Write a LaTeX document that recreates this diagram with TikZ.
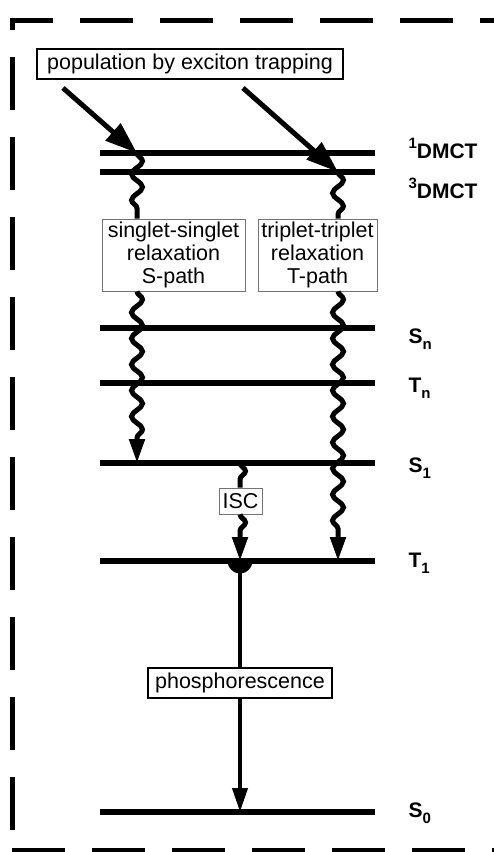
\documentclass[tikz,border=0pt]{standalone}
\usepackage{fontspec}
\setmainfont{Liberation Sans}
\usetikzlibrary{arrows.meta, positioning, decorations.pathmorphing}
\newcommand{\lvlsup}[1]{\raisebox{10pt}{\fontsize{15}{15}\selectfont #1}}
\newcommand{\lvlsub}[1]{\raisebox{-6pt}{\fontsize{15}{15}\selectfont #1}}

\begin{document}
\begin{tikzpicture}[x=1pt, y=-1pt,
    every node/.style={font=\fontsize{21.5}{23}\selectfont},
    level/.style={line width=5.5pt},
    lvllabel/.style={anchor=base west, font=\fontsize{21}{23}\selectfont\bfseries},
    bigbox/.style={draw, line width=2pt, fill=white, inner sep=0pt},
    thinbox/.style={draw=black!55, line width=0.8pt, fill=white, inner sep=0pt, align=center},
    trap/.style={line width=5pt, -{Triangle[length=32pt, width=22pt]}},
    relax/.style={line width=5pt, decorate,
        decoration={snake, amplitude=5.5pt, segment length=26pt}},
    relaxend/.style={relax, decoration={post length=24pt}, -{Triangle[length=24pt, width=15pt]}},
    emit/.style={line width=4pt},
    border/.style={line width=5pt, dash pattern=on 53pt off 27pt}]

\useasboundingbox (0,0) rectangle (494,852);
\clip (0,0) rectangle (494,852);

% Dashed frame (right side runs off the page)
\draw[border, dash phase=9.5pt] (9.5,20) -- (500,20);
\draw[border, dash phase=40.5pt] (12,17.5) -- (12,850);
\draw[border] (12,850) -- (500,850);
\draw[border, dash phase=18pt] (496,20) -- (496,850);

% Energy levels
\foreach \lvl/\y in {dmct1/153, dmct3/172, sn/328, tn/383, s1/463, t1/561, s0/812} {
    \coordinate (\lvl-w) at (100,\y);
    \coordinate (\lvl-e) at (375,\y);
    \draw[level] (\lvl-w) -- (\lvl-e);
}

% Level labels
\node[lvllabel] (dmct1-lbl) at (405,158) {\lvlsup{1}DMCT};
\node[lvllabel] (dmct3-lbl) at (405,198) {\lvlsup{3}DMCT};
\node[lvllabel] (sn-lbl) at (405,343) {S\lvlsub{n}};
\node[lvllabel] (tn-lbl) at (405,392) {T\lvlsub{n}};
\node[lvllabel] (s1-lbl) at (405,472) {S\lvlsub{1}};
\node[lvllabel] (t1-lbl) at (405,567) {T\lvlsub{1}};
\node[lvllabel] (s0-lbl) at (405,817) {S\lvlsub{0}};

% End points of the transitions
\coordinate (trap-s) at (63,88);
\coordinate (trap-t) at (243,88);
\coordinate (spath-top) at (137,153);
\coordinate (spath-end) at (137,463);
\coordinate (tpath-top) at (338,172);
\coordinate (tpath-end) at (338,561);
\coordinate (isc-top) at (240,463);
\coordinate (isc-end) at (240,561);
\coordinate (phos-end) at (240,812);

% Boxes
\node[bigbox, minimum width=306pt, minimum height=30pt] (trap) at (190,64) {population by exciton trapping};
\node[thinbox, minimum width=143pt, minimum height=72pt] (spath) at (173.5,255) {singlet-singlet\\relaxation\\S-path};
\node[thinbox, minimum width=119pt, minimum height=72pt] (tpath) at (317.5,255) {triplet-triplet\\relaxation\\T-path};
\node[thinbox, minimum width=43pt, minimum height=26pt] (isc) at (240.5,501) {ISC};
\node[bigbox, minimum width=184pt, minimum height=30pt] (phos) at (240,683) {phosphorescence};

% Population arrows
\draw[trap] (trap-s) -- (spath-top);
\draw[trap] (trap-t) -- (tpath-top);

% Relaxation paths
\draw[relax] (spath-top) -- (spath-top |- spath.north);
\draw[relaxend] (spath-top |- spath.south) -- (spath-end);
\draw[relax] (tpath-top) -- (tpath-top |- tpath.north);
\draw[relaxend] (tpath-top |- tpath.south) -- (tpath-end);
\draw[relax] (isc-top) -- (isc-top |- isc.north);
\draw[relaxend] (isc-top |- isc.south) -- (isc-end);

% Phosphorescence
\fill (isc-end) ++(-12.5,0) arc[start angle=180, end angle=0, radius=12.5] -- cycle;
\draw[emit] (isc-end) -- (phos);
\draw[emit, -{Triangle[length=24pt, width=15pt]}] (phos) -- (phos-end);
\end{tikzpicture}
\end{document}
